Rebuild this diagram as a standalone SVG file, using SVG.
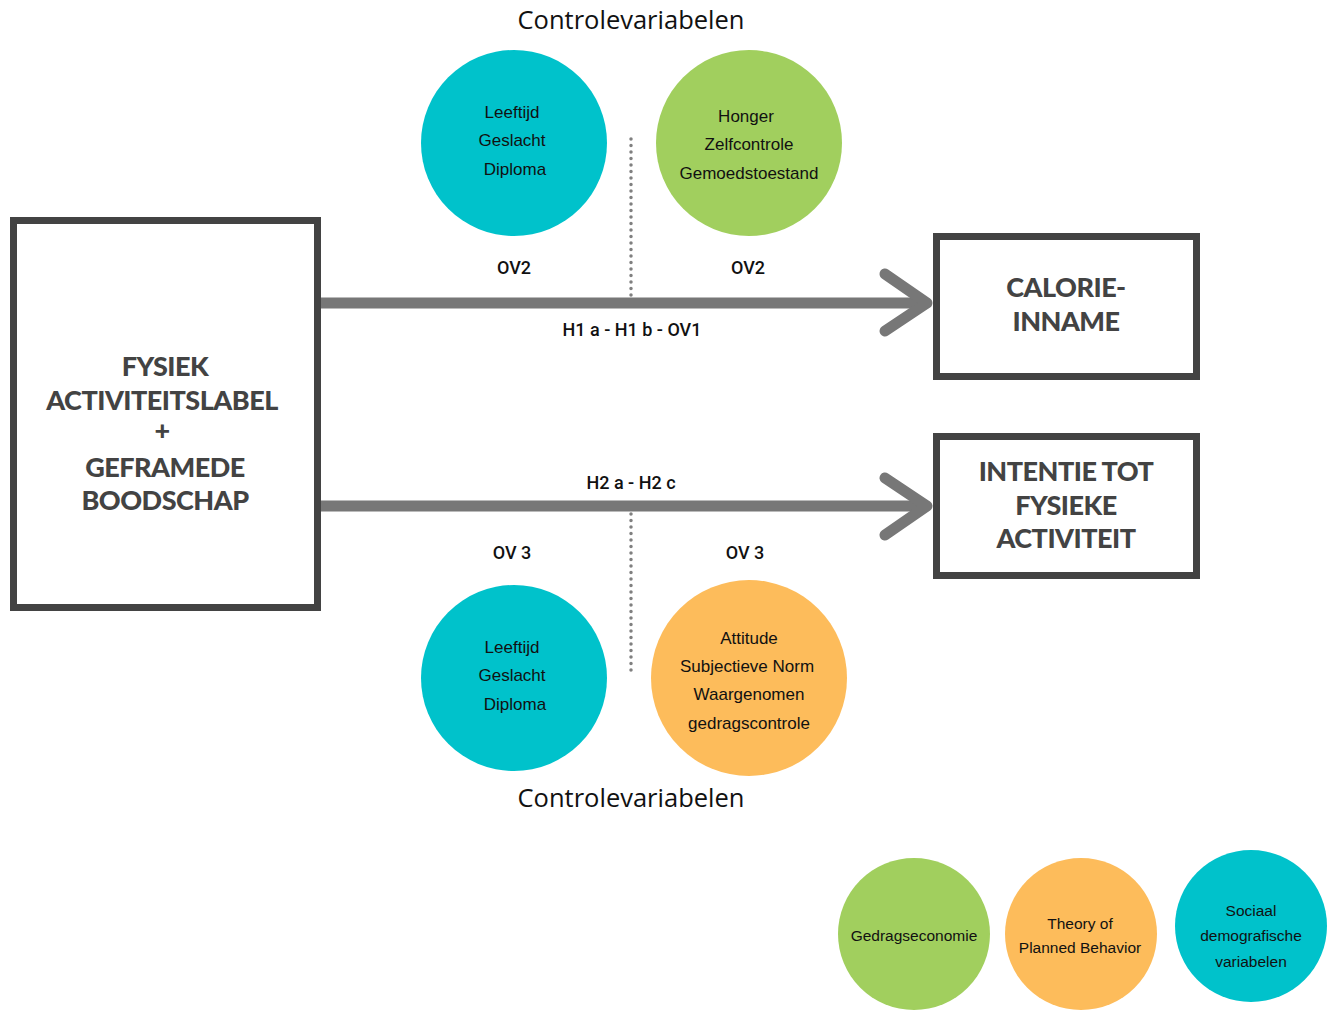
<svg xmlns="http://www.w3.org/2000/svg" width="1335" height="1010" viewBox="0 0 1335 1010">
<style>
.box{fill:#fff;stroke:#434343;stroke-width:7}
.bt{font-family:"Lato","Liberation Sans",sans-serif;font-weight:900;font-size:27px;fill:#434343;text-anchor:middle;letter-spacing:-0.5px}
.ct{font-family:"Liberation Sans",sans-serif;font-size:17px;fill:#111;text-anchor:middle}
.lg{font-size:15.5px}
.lt{font-family:"Roboto","Liberation Sans",sans-serif;font-weight:500;font-size:18px;fill:#111;text-anchor:middle}
.ht{font-family:"Open Sans","Liberation Sans",sans-serif;font-size:25.5px;fill:#111;text-anchor:middle}
.arr{fill:none;stroke:#777;stroke-width:11;stroke-linecap:round;stroke-linejoin:round}
.dot{stroke:#808080;stroke-width:3.5;stroke-linecap:round;stroke-dasharray:0 6.5}
.teal{fill:#00C2CB}.green{fill:#A1CF5E}.orange{fill:#FDBC5B}
</style>
<rect width="1335" height="1010" fill="#fff"/>
<text class="ht" x="631" y="29">Controlevariabelen</text>
<text class="ht" x="631" y="807">Controlevariabelen</text>
<g id="connectors">
<line class="dot" x1="631" y1="139" x2="631" y2="297"/>
<line class="dot" x1="631" y1="514" x2="631" y2="672"/>
<path class="arr" d="M321 303 H926" stroke-linecap="butt"/>
<path class="arr" d="M885 274 L927 303 L885 331"/>
<path class="arr" d="M321 506 H926" stroke-linecap="butt"/>
<path class="arr" d="M885 478 L927 506 L885 535"/>
<text class="lt" x="514" y="274">OV2</text>
<text class="lt" x="748" y="274">OV2</text>
<text class="lt" x="632" y="336">H1 a - H1 b - OV1</text>
<text class="lt" x="631" y="489">H2 a - H2 c</text>
<text class="lt" x="512" y="559">OV 3</text>
<text class="lt" x="745" y="559">OV 3</text>
</g>
<g id="source">
<rect class="box" x="13.5" y="220.5" width="304" height="387"/>
<text class="bt" x="165" y="376">FYSIEK</text>
<text class="bt" x="162" y="410">ACTIVITEITSLABEL</text>
<text class="bt" x="162" y="440">+</text>
<text class="bt" x="165" y="477">GEFRAMEDE</text>
<text class="bt" x="165" y="510">BOODSCHAP</text>
</g>
<g id="calorie">
<rect class="box" x="936.5" y="236.5" width="260" height="140"/>
<text class="bt" x="1066" y="297">CALORIE-</text>
<text class="bt" x="1066" y="331">INNAME</text>
</g>
<g id="intentie">
<rect class="box" x="936.5" y="436.5" width="260" height="139"/>
<text class="bt" x="1066" y="481">INTENTIE TOT</text>
<text class="bt" x="1066" y="515">FYSIEKE</text>
<text class="bt" x="1066" y="548">ACTIVITEIT</text>
</g>
<g id="ov2-socio">
<circle class="teal" cx="514" cy="143" r="93"/>
<text class="ct" x="512" y="118">Leeftijd</text>
<text class="ct" x="512" y="146">Geslacht</text>
<text class="ct" x="515" y="175">Diploma</text>
</g>
<g id="ov2-econ">
<circle class="green" cx="749" cy="143" r="93"/>
<text class="ct" x="746" y="122">Honger</text>
<text class="ct" x="749" y="150">Zelfcontrole</text>
<text class="ct" x="749" y="179">Gemoedstoestand</text>
</g>
<g id="ov3-socio">
<circle class="teal" cx="514" cy="678" r="93"/>
<text class="ct" x="512" y="653">Leeftijd</text>
<text class="ct" x="512" y="681">Geslacht</text>
<text class="ct" x="515" y="710">Diploma</text>
</g>
<g id="ov3-tpb">
<circle class="orange" cx="749" cy="678" r="98"/>
<text class="ct" x="749" y="644">Attitude</text>
<text class="ct" x="747" y="672">Subjectieve Norm</text>
<text class="ct" x="749" y="700">Waargenomen</text>
<text class="ct" x="749" y="729">gedragscontrole</text>
</g>
<g id="legend-econ">
<circle class="green" cx="914" cy="934" r="76"/>
<text class="ct lg" x="914" y="941">Gedragseconomie</text>
</g>
<g id="legend-tpb">
<circle class="orange" cx="1081" cy="934" r="76"/>
<text class="ct lg" x="1080" y="929">Theory of</text>
<text class="ct lg" x="1080" y="953">Planned Behavior</text>
</g>
<g id="legend-socio">
<circle class="teal" cx="1251" cy="926" r="76"/>
<text class="ct lg" x="1251" y="916">Sociaal</text>
<text class="ct lg" x="1251" y="941">demografische</text>
<text class="ct lg" x="1251" y="967">variabelen</text>
</g>
</svg>
